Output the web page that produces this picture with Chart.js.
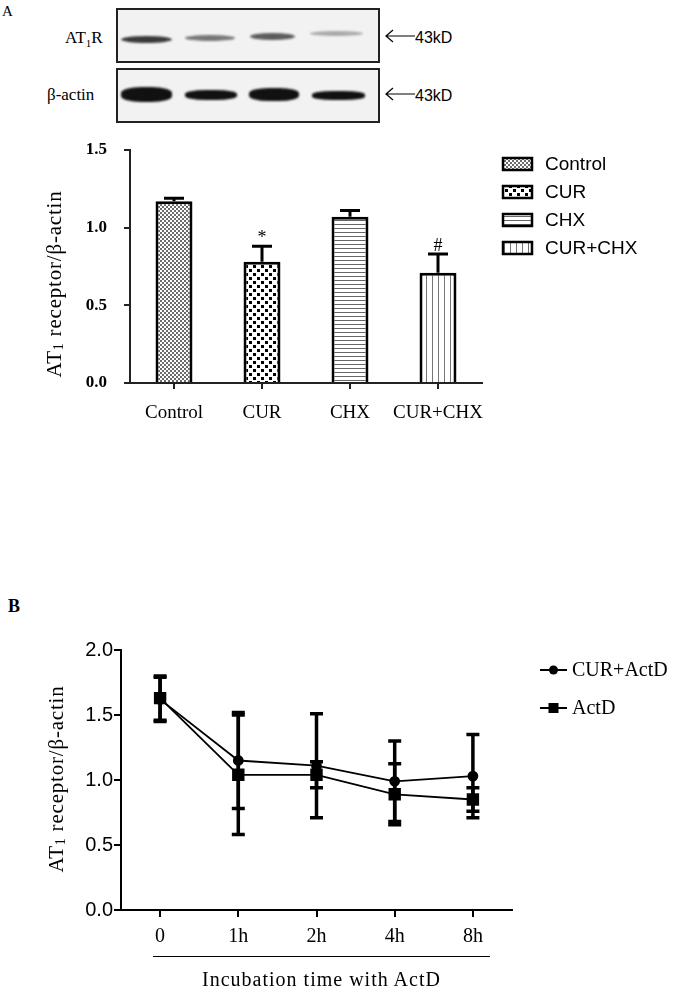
<!DOCTYPE html>
<html>
<head>
<meta charset="utf-8">
<script src="https://cdn.jsdelivr.net/npm/chart.js@4.4.1/dist/chart.umd.min.js"></script>
<style>
body { margin: 0; background: #fff; width: 675px; height: 989px; position: relative; overflow: hidden;
       font-family: "Liberation Serif", "Times New Roman", serif; color: #000; }
.abs { position: absolute; line-height: 1; white-space: nowrap; }
.box { position: absolute; box-sizing: border-box; border: 2.5px solid #222; background: #f2f2f2; }
.band { position: absolute; border-radius: 50%; filter: blur(1.2px); }
.sans { font-family: "Liberation Sans", Arial, sans-serif; }
canvas { position: absolute; left: 0; }
</style>
</head>
<body>

<!-- western blot panel -->
<div class="abs" style="left:2px;top:4px;font-size:15px">A</div>
<div class="box" style="left:116px;top:8px;width:264px;height:55px"></div>
<div class="box" style="left:116px;top:68px;width:264px;height:55px"></div>

<div class="band" style="left:121px;top:36px;width:51px;height:7px;background:#3a3a3a"></div>
<div class="band" style="left:185px;top:35px;width:50px;height:6px;background:#777"></div>
<div class="band" style="left:250px;top:33px;width:45px;height:7px;background:#5c5c5c"></div>
<div class="band" style="left:310px;top:31px;width:53px;height:5px;background:#aaa"></div>

<div class="band" style="left:121px;top:87px;width:51px;height:15px;background:#111;border-radius:40%"></div>
<div class="band" style="left:185px;top:90px;width:52px;height:10px;background:#111;border-radius:40%"></div>
<div class="band" style="left:249px;top:88px;width:50px;height:13px;background:#111;border-radius:40%"></div>
<div class="band" style="left:312px;top:91px;width:53px;height:9px;background:#111;border-radius:40%"></div>

<div class="abs" style="left:65px;top:29px;font-size:17px">AT<sub style="font-size:11px">1</sub>R</div>
<div class="abs" style="left:47px;top:86px;font-size:17px">β-actin</div>

<svg class="abs" style="left:384px;top:28px" width="32" height="16"><path d="M2 8 H31 M9 2 L2 8 L9 14" stroke="#000" stroke-width="1.2" fill="none"/></svg>
<div class="abs sans" style="left:415px;top:30px;font-size:16px">43kD</div>
<svg class="abs" style="left:384px;top:86px" width="32" height="16"><path d="M2 8 H31 M9 2 L2 8 L9 14" stroke="#000" stroke-width="1.2" fill="none"/></svg>
<div class="abs sans" style="left:415px;top:88px;font-size:16px">43kD</div>

<canvas id="barChart" width="675" height="300" style="top:140px"></canvas>

<div class="abs" style="left:8px;top:597px;font-size:18px;font-weight:bold">B</div>
<canvas id="lineChart" width="675" height="409" style="top:580px"></canvas>
<div class="abs" style="left:153px;top:956px;width:337px;border-top:1.5px solid #000"></div>
<div class="abs" style="left:153px;top:969px;width:337px;text-align:center;font-size:20px;letter-spacing:1px">Incubation time with ActD</div>

<script>
// panel A data
const barLabels = ["Control", "CUR", "CHX", "CUR+CHX"];
const barValues = [1.17, 0.78, 1.07, 0.71];
const barErrors = [0.02, 0.10, 0.04, 0.12];
const barMarks = ["", "*", "", "#"];
const barTicks = [0, 0.5, 1.0, 1.5];

// panel B data
const timeLabels = ["0", "1h", "2h", "4h", "8h"];
const curActD = [1.62, 1.15, 1.11, 0.99, 1.03];
const curActDErr = [0.17, 0.37, 0.40, 0.31, 0.32];
const actD = [1.63, 1.04, 1.04, 0.89, 0.85];
const actDErr = [0.17, 0.46, 0.10, 0.235, 0.09];
const lineTicks = [0, 0.5, 1.0, 1.5, 2.0];

const SERIF = '"Liberation Serif", "Times New Roman", serif';
const SANS = '"Liberation Sans", Arial, sans-serif';

function makePattern(size, draw) {
    const c = document.createElement("canvas");
    c.width = c.height = size;
    const g = c.getContext("2d");
    g.fillStyle = "#fff";
    g.fillRect(0, 0, size, size);
    draw(g);
    return g.createPattern(c, "repeat");
}

const barPatterns = [
    makePattern(4, g => { g.fillStyle = "#6a6a6a"; g.fillRect(0, 0, 2, 2); g.fillRect(2, 2, 2, 2); }),
    makePattern(8, g => { g.fillStyle = "#000"; g.fillRect(1, 1, 3, 3); g.fillRect(5, 5, 3, 3); }),
    makePattern(4, g => { g.fillStyle = "#666"; g.fillRect(0, 0, 4, 1); }),
    makePattern(6, g => { g.fillStyle = "#777"; g.fillRect(0, 0, 1, 6); })
];

// error bars, drawn from the dataset values through the y scale
const errorBars = {
    id: "errorBars",
    afterDatasetsDraw(chart, args, opts) {
        const ctx = chart.ctx;
        const y = chart.scales.y;
        chart.data.datasets.forEach((ds, di) => {
            if (!ds.errors) return;
            const meta = chart.getDatasetMeta(di);
            meta.data.forEach((el, i) => {
                const v = ds.data[i];
                const e = ds.errors[i];
                const top = y.getPixelForValue(v + e);
                const bot = opts.both ? y.getPixelForValue(v - e) : el.y;
                const h = opts.cap / 2;
                ctx.save();
                ctx.strokeStyle = "#000";
                ctx.lineWidth = opts.width;
                ctx.beginPath();
                ctx.moveTo(el.x, bot);
                ctx.lineTo(el.x, top);
                ctx.moveTo(el.x - h, top);
                ctx.lineTo(el.x + h, top);
                if (opts.both) {
                    ctx.moveTo(el.x - h, bot);
                    ctx.lineTo(el.x + h, bot);
                }
                ctx.stroke();
                if (ds.marks && ds.marks[i]) {
                    ctx.fillStyle = "#000";
                    ctx.font = "18px " + SERIF;
                    ctx.textAlign = "center";
                    ctx.textBaseline = "alphabetic";
                    ctx.fillText(ds.marks[i], el.x, top - 3);
                }
                ctx.restore();
            });
        });
    }
};

// rotated y title with a subscript
const sideTitle = {
    id: "sideTitle",
    afterDraw(chart, args, o) {
        const ctx = chart.ctx;
        const parts = [["AT", 21, 0], ["1", 14, 4], [" receptor/β-actin", 21, 0]];
        ctx.save();
        ctx.letterSpacing = "0.8px";
        let total = 0;
        parts.forEach(p => { ctx.font = p[1] + "px " + SERIF; total += ctx.measureText(p[0]).width; });
        ctx.translate(o.x, o.y);
        ctx.rotate(-Math.PI / 2);
        ctx.fillStyle = "#000";
        ctx.textBaseline = "middle";
        let x = -total / 2;
        parts.forEach(p => {
            ctx.font = p[1] + "px " + SERIF;
            ctx.fillText(p[0], x, p[2]);
            x += ctx.measureText(p[0]).width;
        });
        ctx.restore();
    }
};

const barLegend = {
    id: "barLegend",
    afterDraw(chart, args, o) {
        const ctx = chart.ctx;
        const ds = chart.data.datasets[0];
        ctx.save();
        chart.data.labels.forEach((label, i) => {
            const y = o.y + i * o.dy;
            ctx.fillStyle = ds.backgroundColor[i];
            ctx.fillRect(o.x, y - 6, 29, 12);
            ctx.strokeStyle = "#000";
            ctx.lineWidth = 2.5;
            ctx.strokeRect(o.x, y - 6, 29, 12);
            ctx.fillStyle = "#000";
            ctx.font = "19px " + SANS;
            ctx.textBaseline = "middle";
            ctx.fillText(label, o.x + 42, y + 1);
        });
        ctx.restore();
    }
};

const lineLegend = {
    id: "lineLegend",
    afterDraw(chart, args, o) {
        const ctx = chart.ctx;
        ctx.save();
        chart.data.datasets.forEach((ds, i) => {
            const y = o.y + i * o.dy;
            ctx.strokeStyle = "#000";
            ctx.lineWidth = 2;
            ctx.beginPath();
            ctx.moveTo(o.x, y);
            ctx.lineTo(o.x + 27, y);
            ctx.stroke();
            ctx.fillStyle = "#000";
            if (ds.pointStyle === "circle") {
                ctx.beginPath();
                ctx.arc(o.x + 13.5, y, 4.5, 0, Math.PI * 2);
                ctx.fill();
            } else {
                ctx.fillRect(o.x + 8.5, y - 5, 10, 10);
            }
            ctx.font = "20px " + SERIF;
            ctx.textBaseline = "middle";
            ctx.fillText(ds.label, o.x + 32, y + 1);
        });
        ctx.restore();
    }
};

new Chart(document.getElementById("barChart"), {
    type: "bar",
    data: {
        labels: barLabels,
        datasets: [{
            data: barValues,
            errors: barErrors,
            marks: barMarks,
            backgroundColor: barPatterns,
            borderColor: "#000",
            borderWidth: 3,
            barPercentage: 0.42,
            categoryPercentage: 1
        }]
    },
    options: {
        responsive: false,
        animation: false,
        devicePixelRatio: 1,
        layout: { padding: { left: 0, top: 10, right: 193, bottom: 0 } },
        plugins: {
            legend: { display: false },
            tooltip: { enabled: false },
            errorBars: { both: false, width: 3, cap: 20 },
            sideTitle: { x: 55, y: 144 },
            barLegend: { x: 503, y: 24, dy: 28 }
        },
        scales: {
            x: {
                grid: { drawOnChartArea: false, offset: false, tickLength: 6, color: "#222", lineWidth: 2 },
                border: { color: "#222", width: 2 },
                ticks: { color: "#000", font: { family: SERIF, size: 19 }, padding: 13,
                         autoSkip: false, maxRotation: 0, minRotation: 0 },
                afterFit: s => { s.height = 57; s.paddingLeft = 0; s.paddingRight = 0; }
            },
            y: {
                min: 0,
                max: 1.5,
                afterBuildTicks: s => { s.ticks = barTicks.map(v => ({ value: v })); },
                grid: { drawOnChartArea: false, tickLength: 6, color: "#222", lineWidth: 2 },
                border: { color: "#222", width: 2 },
                ticks: { color: "#000", font: { family: SERIF, size: 17, weight: "bold" }, padding: 17,
                         callback: v => Number(v).toFixed(1) },
                afterFit: s => { s.width = 130; s.paddingTop = 0; s.paddingBottom = 0; }
            }
        }
    },
    plugins: [errorBars, sideTitle, barLegend]
});

new Chart(document.getElementById("lineChart"), {
    type: "line",
    data: {
        labels: timeLabels,
        datasets: [
            {
                label: "CUR+ActD",
                data: curActD,
                errors: curActDErr,
                borderColor: "#000",
                backgroundColor: "#000",
                borderWidth: 1.8,
                pointStyle: "circle",
                pointRadius: 4.5,
                tension: 0
            },
            {
                label: "ActD",
                data: actD,
                errors: actDErr,
                borderColor: "#000",
                backgroundColor: "#000",
                borderWidth: 1.8,
                pointStyle: "rect",
                pointRadius: 7.5,
                tension: 0
            }
        ]
    },
    options: {
        responsive: false,
        animation: false,
        devicePixelRatio: 1,
        layout: { padding: { left: 0, top: 70, right: 163, bottom: 0 } },
        plugins: {
            legend: { display: false },
            tooltip: { enabled: false },
            errorBars: { both: true, width: 3.5, cap: 13 },
            sideTitle: { x: 57, y: 199 },
            lineLegend: { x: 540, y: 90, dy: 38 }
        },
        scales: {
            x: {
                type: "category",
                offset: true,
                grid: { drawOnChartArea: false, offset: false, tickLength: 7, color: "#000", lineWidth: 2 },
                border: { color: "#000", width: 2 },
                ticks: { color: "#000", font: { family: SERIF, size: 20 }, padding: 8,
                         autoSkip: false, maxRotation: 0, minRotation: 0 },
                afterFit: s => { s.height = 79; s.paddingLeft = 0; s.paddingRight = 0; }
            },
            y: {
                min: 0,
                max: 2,
                afterBuildTicks: s => { s.ticks = lineTicks.map(v => ({ value: v })); },
                grid: { drawOnChartArea: false, tickLength: 7, color: "#000", lineWidth: 2 },
                border: { color: "#000", width: 2 },
                ticks: { color: "#000", font: { family: SANS, size: 20 }, padding: 1,
                         callback: v => Number(v).toFixed(1) },
                afterFit: s => { s.width = 121; s.paddingTop = 0; s.paddingBottom = 0; }
            }
        }
    },
    plugins: [errorBars, sideTitle, lineLegend]
});
</script>
</body>
</html>
